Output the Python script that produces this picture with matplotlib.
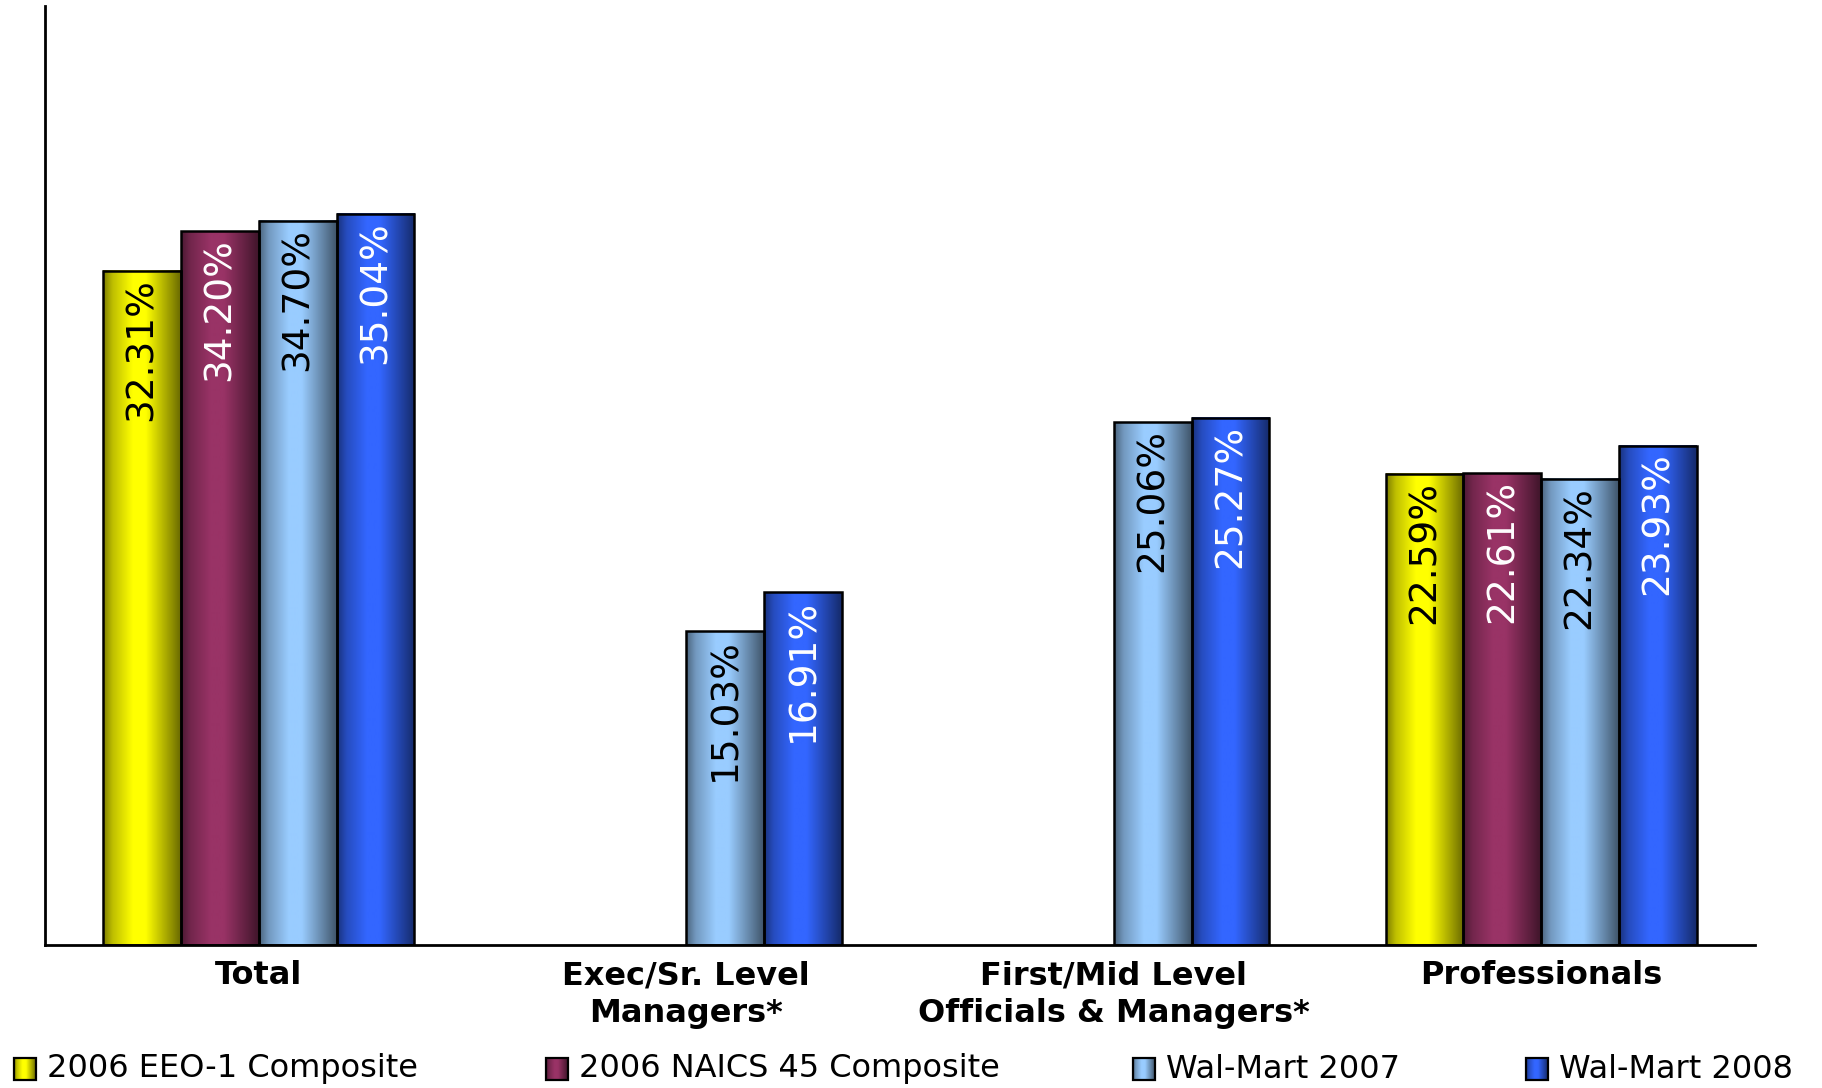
import numpy as np
import matplotlib
matplotlib.use("Agg")
import matplotlib.pyplot as plt
from matplotlib.colors import to_rgb
from matplotlib.patches import Rectangle

# data
categories = ["Total", "Exec/Sr. Level\nManagers*",
              "First/Mid Level\nOfficials & Managers*", "Professionals"]
series_names = ["2006 EEO-1 Composite", "2006 NAICS 45 Composite",
                "Wal-Mart 2007", "Wal-Mart 2008"]
eeo_2006 = [32.31, None, None, 22.59]
naics_2006 = [34.20, None, None, 22.61]
walmart_2007 = [34.70, 15.03, 25.06, 22.34]
walmart_2008 = [35.04, 16.91, 25.27, 23.93]

# style
COLORS = ["#ffff00", "#993366", "#99ccff", "#3366ff"]
TEXT_COLORS = ["black", "white", "black", "white"]
BAR_W = 0.182


def gradient(color, n=64):
    # cylinder-like shading: dark edges, bright just left of centre
    t = np.linspace(0, 1, n)
    f = np.interp(t, [0, 0.12, 0.38, 0.55, 0.85, 1], [0.5, 0.75, 1.0, 1.0, 0.62, 0.42])
    rgb = np.array(to_rgb(color))
    return (f[:, None] * rgb[None, :])[None, :, :]


fig = plt.figure(figsize=(18.22, 10.88), dpi=100)
ax = fig.add_axes([45 / 1822, 1 - 945 / 1088, (1755 - 45) / 1822, (945 - 6) / 1088])

series = [eeo_2006, naics_2006, walmart_2007, walmart_2008]
x = np.arange(len(categories))
for i, vals in enumerate(series):
    offset = (i - 1.5) * BAR_W
    for xi, v in zip(x, vals):
        if v is None:
            continue
        x0 = xi + offset - BAR_W / 2
        x1 = xi + offset + BAR_W / 2
        ax.imshow(gradient(COLORS[i]), extent=(x0, x1, 0, v), aspect="auto",
                  interpolation="bilinear", zorder=2)
        ax.add_patch(Rectangle((x0, 0), BAR_W, v, fill=False, ec="black",
                               lw=1.8, zorder=3))
        ax.annotate(f"{v:.2f}%", (xi + offset, v), xytext=(0, -5),
                    textcoords="offset points", rotation=90, ha="center",
                    va="top", fontsize=27, color=TEXT_COLORS[i], zorder=4)

ax.set_xlim(-0.5, len(categories) - 0.5)
ax.set_ylim(0, 45)
ax.set_xticks(x)
ax.set_xticklabels(categories, fontsize=23, fontweight="bold", linespacing=1.3)
ax.tick_params(axis="x", length=0, pad=11)
ax.set_yticks([])
for side in ["top", "right"]:
    ax.spines[side].set_visible(False)
for side in ["left", "bottom"]:
    ax.spines[side].set_linewidth(2)
    ax.spines[side].set_color("black")

# legend drawn in pixel coordinates of an overlay
lax = fig.add_axes([0, 0, 1, 1], zorder=5)
lax.axis("off")
legend_x = [14, 546, 1133, 1526]
for name, col, lx in zip(series_names, COLORS, legend_x):
    lax.imshow(gradient(col), extent=(lx, lx + 22, 1080, 1058), aspect="auto",
               interpolation="bilinear")
    lax.add_patch(Rectangle((lx, 1058), 22, 22, fill=False, ec="black", lw=1.6))
    lax.text(lx + 33, 1069, name, fontsize=23, va="center", ha="left")
lax.set_xlim(0, 1822)
lax.set_ylim(1088, 0)

fig.savefig("out.png", dpi=100)
